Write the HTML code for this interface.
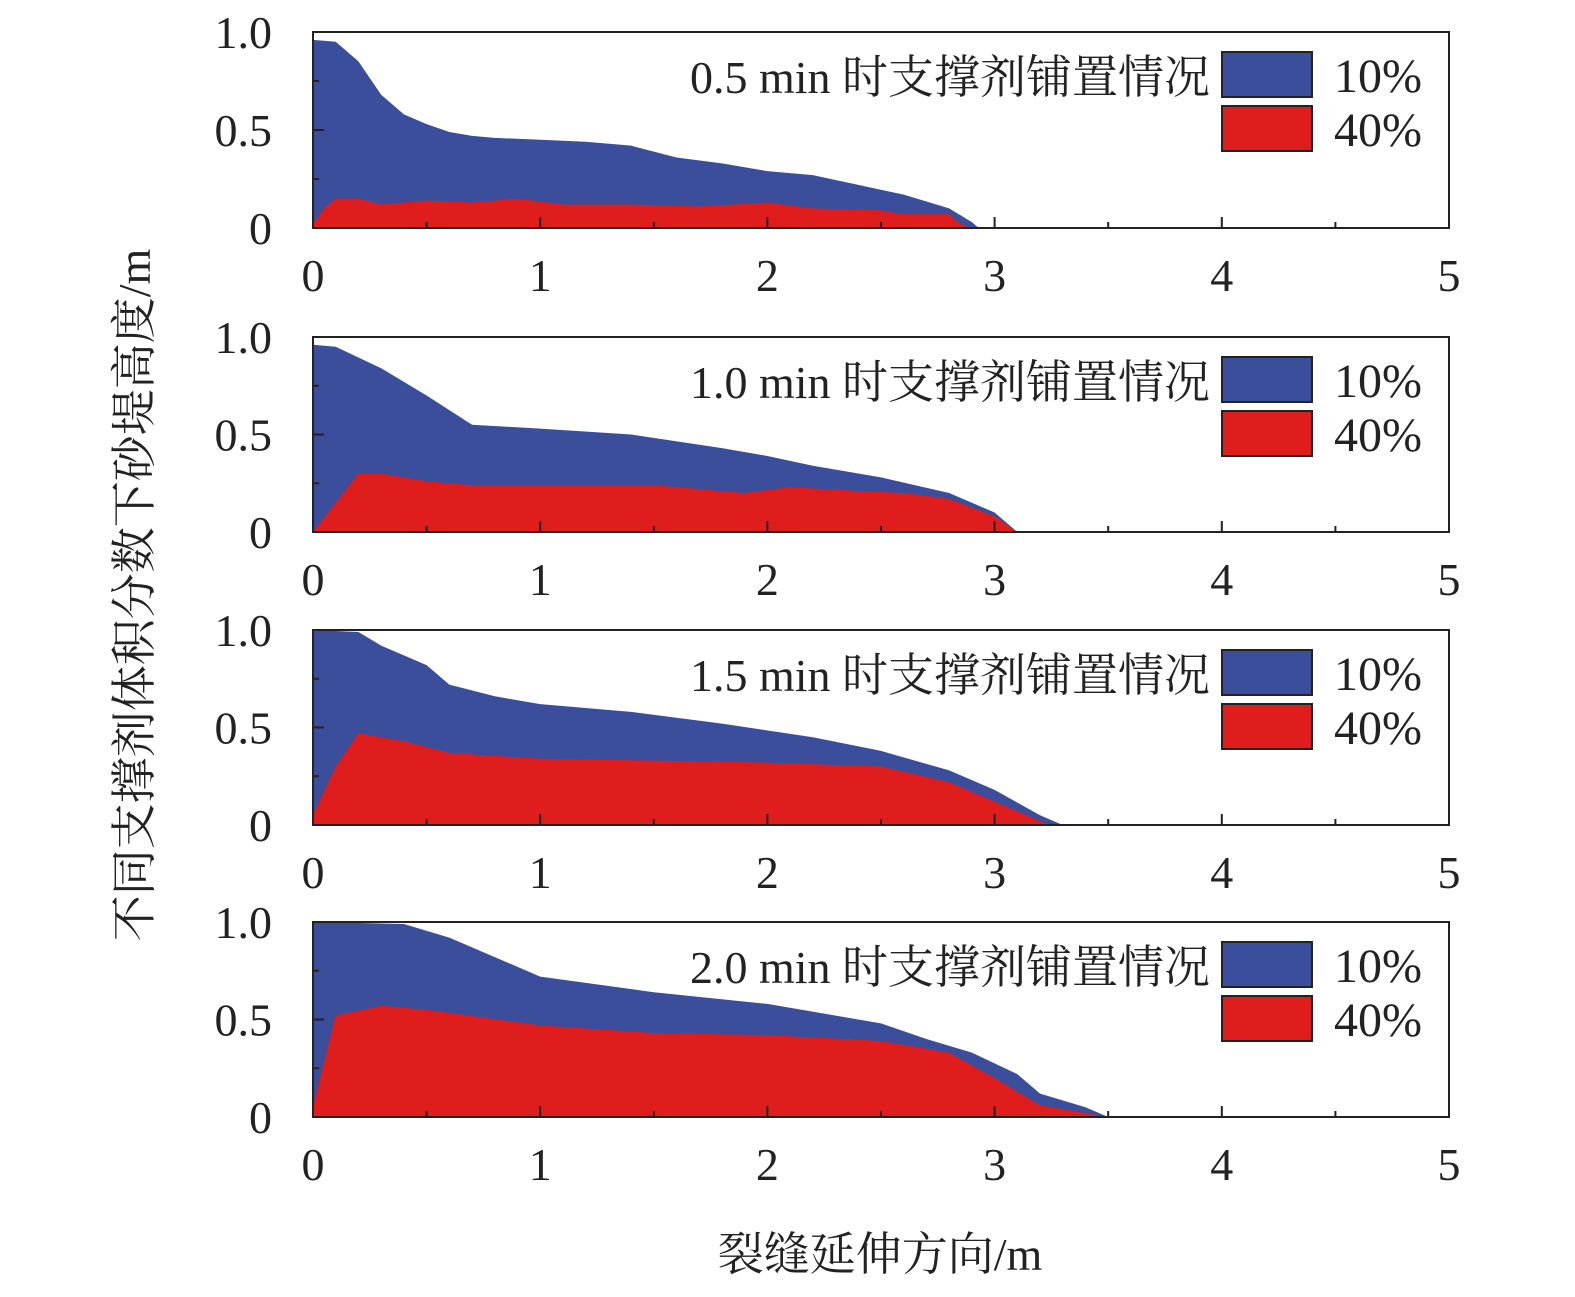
<!DOCTYPE html>
<html><head><meta charset="utf-8">
<style>
html,body{margin:0;padding:0;background:#fff;}
svg{display:block;font-family:"Liberation Serif","Noto Serif CJK SC",serif;}
</style></head>
<body>
<svg id="chart" width="1575" height="1297" viewBox="0 0 1575 1297" xmlns="http://www.w3.org/2000/svg">
<text transform="translate(150,595) rotate(-90)" text-anchor="middle" font-size="46" fill="#222">不同支撑剂体积分数下砂堤高度/m</text>
<text x="880" y="1270" text-anchor="middle" font-size="46" fill="#222">裂缝延伸方向/m</text>
</svg>
<script>
const panelTitles = ["0.5 min 时支撑剂铺置情况","1.0 min 时支撑剂铺置情况","1.5 min 时支撑剂铺置情况","2.0 min 时支撑剂铺置情况"];
const seriesNames = ["10%","40%"];
const xTickLabels = ["0","1","2","3","4","5"];
const yTickLabels = ["0","0.5","1.0"];
const blueX1 = [0,0.1,0.2,0.3,0.4,0.5,0.6,0.7,0.8,1.0,1.2,1.4,1.6,1.8,2.0,2.2,2.4,2.6,2.8,2.9,2.93];
const blueY1 = [0.96,0.95,0.85,0.68,0.58,0.53,0.49,0.47,0.46,0.45,0.44,0.42,0.36,0.33,0.29,0.27,0.22,0.17,0.1,0.03,0];
const redX1 = [0,0.05,0.1,0.2,0.3,0.5,0.7,0.9,1.1,1.4,1.7,2.0,2.2,2.5,2.6,2.8,2.85,2.9];
const redY1 = [0.02,0.1,0.15,0.15,0.12,0.14,0.13,0.15,0.12,0.12,0.11,0.13,0.1,0.09,0.07,0.07,0.02,0];
const blueX2 = [0,0.1,0.3,0.5,0.7,1.0,1.4,1.8,2.0,2.2,2.5,2.8,3.0,3.1];
const blueY2 = [0.96,0.95,0.84,0.7,0.55,0.53,0.5,0.43,0.39,0.34,0.28,0.2,0.1,0];
const redX2 = [0,0.1,0.2,0.3,0.5,0.7,1.0,1.5,1.9,2.1,2.4,2.6,2.8,3.0,3.1];
const redY2 = [0,0.15,0.3,0.3,0.26,0.24,0.24,0.24,0.2,0.23,0.21,0.2,0.17,0.08,0];
const blueX3 = [0,0.2,0.3,0.5,0.6,0.8,1.0,1.4,1.8,2.2,2.5,2.8,3.0,3.2,3.3];
const blueY3 = [1.0,0.99,0.92,0.82,0.72,0.66,0.62,0.58,0.52,0.45,0.38,0.28,0.18,0.05,0];
const redX3 = [0,0.1,0.2,0.4,0.6,1.0,1.5,2.0,2.5,2.8,3.0,3.2,3.25];
const redY3 = [0.05,0.3,0.47,0.43,0.37,0.34,0.33,0.32,0.3,0.22,0.12,0.02,0];
const blueX4 = [0,0.4,0.6,0.8,1.0,1.5,2.0,2.5,2.7,2.9,3.1,3.2,3.4,3.5];
const blueY4 = [1.0,0.99,0.92,0.82,0.72,0.64,0.58,0.48,0.4,0.33,0.22,0.12,0.05,0];
const redX4 = [0,0.1,0.3,0.5,1.0,1.5,2.0,2.5,2.8,3.0,3.2,3.4,3.5];
const redY4 = [0.05,0.52,0.57,0.55,0.47,0.43,0.42,0.39,0.33,0.2,0.06,0.02,0];

const panels = [
 {top:32,bottom:228,bx:blueX1,by:blueY1,rx:redX1,ry:redY1},
 {top:337,bottom:532,bx:blueX2,by:blueY2,rx:redX2,ry:redY2},
 {top:630,bottom:825,bx:blueX3,by:blueY3,rx:redX3,ry:redY3},
 {top:922,bottom:1117,bx:blueX4,by:blueY4,rx:redX4,ry:redY4}
];
const NS="http://www.w3.org/2000/svg";
const svg=document.getElementById('chart');
const L=313,R=1449;
const xs=v=>L+v*(R-L)/5;
function mk(tag,attrs,parent){const e=document.createElementNS(NS,tag);for(const k in attrs)e.setAttribute(k,attrs[k]);(parent||svg).appendChild(e);return e;}
panels.forEach((p,i)=>{
  const ys=v=>p.bottom-v*(p.bottom-p.top);
  const g=mk('g',{});
  
  
  function area(X,Y,color,name){
    let d='M'+xs(X[0])+','+ys(0);
    for(let k=0;k<X.length;k++)d+=' L'+xs(X[k])+','+ys(Y[k]);
    d+=' L'+xs(X[X.length-1])+','+ys(0)+' Z';
    const a=mk('path',{d:d,fill:color},g);
    
    
  }
  area(p.bx,p.by,'#3a4e9c','area-10pct');
  area(p.rx,p.ry,'#e01d1d','area-40pct');
  const frame=mk('rect',{x:L,y:p.top,width:R-L,height:p.bottom-p.top,fill:'none',stroke:'#222','stroke-width':2},g);
  
  
  for(let t=0;t<=10;t++){
    const x=xs(t/2);
    mk('line',{x1:x,x2:x,y1:p.bottom,y2:p.bottom-(t%2?6:11),stroke:'#222','stroke-width':2},g);
  }
  for(let t=0;t<=4;t++){
    const y=ys(t/4);
    mk('line',{x1:L,x2:L+(t%2?6:11),y1:y,y2:y,stroke:'#222','stroke-width':2},g);
  }
  xTickLabels.forEach((s,k)=>{
    const t=mk('text',{x:xs(+s),y:p.bottom+63,'text-anchor':'middle','font-size':46,fill:'#222'},g);
    t.textContent=s;
    
    
  });
  yTickLabels.forEach((s,k)=>{
    const t=mk('text',{x:272,y:ys(+s)+16,'text-anchor':'end','font-size':46,fill:'#222'},g);
    t.textContent=s;
    
    
  });
  const tt=mk('text',{x:1210,y:p.top+61,'text-anchor':'end','font-size':46,fill:'#222'},g);
  tt.textContent=panelTitles[i];
  
  
  [['#3a4e9c',20],['#e01d1d',74]].forEach((c,k)=>{
    const r=mk('rect',{x:1222,y:p.top+c[1],width:90,height:45,fill:c[0],stroke:'#222','stroke-width':2},g);
    
    
    const lt=mk('text',{x:1334,y:p.top+c[1]+40,'font-size':48,fill:'#222'},g);
    lt.textContent=seriesNames[k];
    
    
  });
});
</script>
</body></html>
